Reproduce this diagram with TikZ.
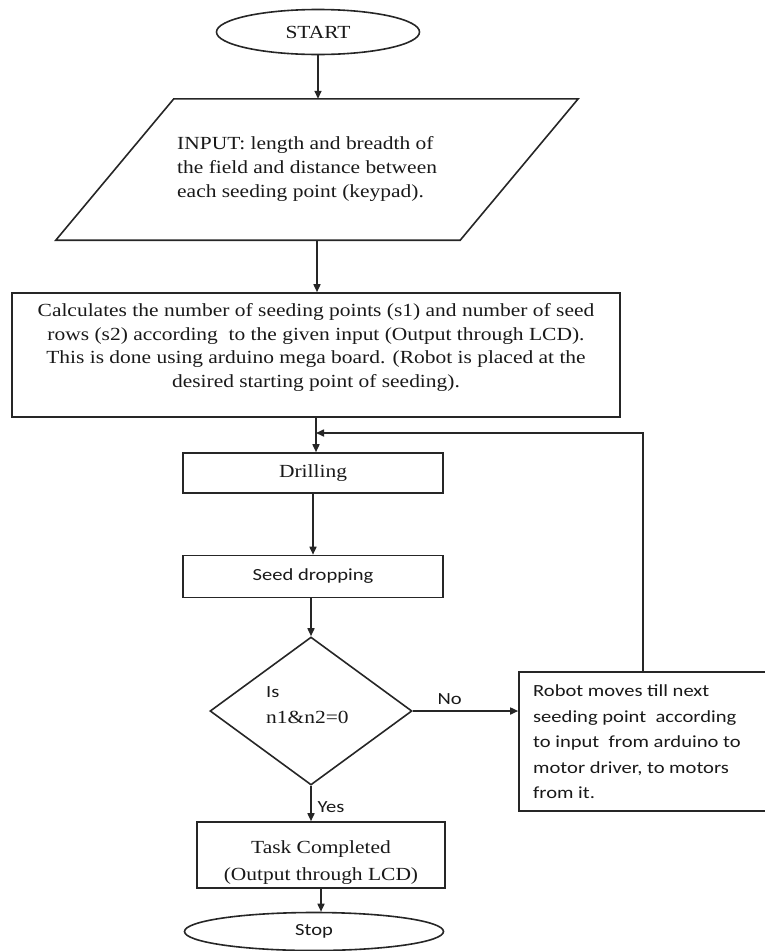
\documentclass[tikz,border=0pt]{standalone}
\usepackage{fontspec}
\setmainfont{Liberation Serif}[FakeStretch=1.16]
\newfontfamily\calfont{Carlito}[FakeStretch=1.21]
\usetikzlibrary{shapes.geometric,arrows.meta,calc}
\begin{document}
\begin{tikzpicture}[x=1pt,y=-1pt,
  line/.style={line width=1.6pt,draw=black!85},
  arr/.style={line,-{Triangle[length=8pt,width=7pt]}},
  box/.style={line,rectangle,inner sep=0pt},
  oval/.style={line,ellipse,inner sep=0pt},
  ser/.style={font=\fontsize{18.5}{23.7}\selectfont,text=black!90},
  sans/.style={font=\calfont\fontsize{17}{25.5}\selectfont,text=black!90},
]
\useasboundingbox (0,0) rectangle (765,951);

% nodes
\node[oval,ser,minimum width=203pt,minimum height=45pt] (start) at (318,32) {START};
\node[rectangle,inner sep=0pt,minimum width=404pt,minimum height=141pt] (input) at (317,169.5) {};
\draw[line] ([xshift=59pt]input.north west) -- ([xshift=59pt]input.north east)
  -- ([xshift=-59pt]input.south east) -- ([xshift=-59pt]input.south west) -- cycle;
\node[ser,anchor=west,align=left,inner sep=0pt,font=\fontsize{18.5}{24}\selectfont] (inputt) at (177,169)
  {INPUT: length and breadth of\\the field and distance between\\each seeding point (keypad).};

\node[box,minimum width=608pt,minimum height=124pt] (calc) at (316,355) {};
\node[ser,align=center,inner sep=0pt] (calct) at (316,347.5)
  {Calculates the number of seeding points (s1) and number of seed\\
   rows (s2) according\ \ to the given input (Output through LCD).\\
   This is done using arduino mega board. (Robot is placed at the\\
   desired starting point of seeding).};

\node[box,ser,minimum width=260pt,minimum height=40pt] (drill) at (313,473) {Drilling};
\node[box,sans,minimum width=260pt,minimum height=42pt] (seed) at (313,576.5) {Seed dropping};

\node[line,diamond,inner sep=0pt,minimum width=202pt,minimum height=148pt] (dia) at (311,711) {};
\node[ser,anchor=west,align=left,inner sep=0pt,font=\fontsize{18.5}{26}\selectfont] (diat) at (266,705)
  {{\calfont\fontsize{17}{26}\selectfont Is}\\n1\&n2=0};

\node[box,minimum width=248pt,minimum height=139pt] (rbox) at (643,741.5) {};
\node[sans,anchor=west,align=left,inner sep=0pt] (rboxt) at (533,742)
  {Robot moves till next\\seeding point\ \ according\\to input\ \ from arduino to\\motor driver, to motors\\from it.};

\node[box,minimum width=248pt,minimum height=66pt] (task) at (321,855) {};
\node[ser,align=center,inner sep=0pt,font=\fontsize{18.5}{27}\selectfont] (taskt) at (321,863)
  {Task Completed\\(Output through LCD)};

\node[oval,sans,minimum width=259pt,minimum height=38pt] (stop) at (314,931.5) {Stop};

\coordinate (join) at (316,433);

% connectors
\draw[arr] (start.south) -- (start.south |- input.north);
\draw[arr] (input.south) -- (input.south |- calc.north);
\draw[arr] (calc.south) -- (calc.south |- drill.north);
\draw[arr] (drill.south) -- (drill.south |- seed.north);
\draw[arr] (seed.south -| dia.north) -- (dia.north);
\draw[arr] (dia.south) -- (dia.south |- task.north);
\draw[arr] (task.south) -- (task.south |- stop.north);
\draw[arr] (dia.east) -- (dia.east -| rbox.west)
  node[sans,pos=0.35,above=6pt,inner sep=0pt] {No};
\draw[arr] (rbox.north) |- (join);
\node[sans,inner sep=0pt] (yes) at (331,807) {Yes};
\end{tikzpicture}
\end{document}
